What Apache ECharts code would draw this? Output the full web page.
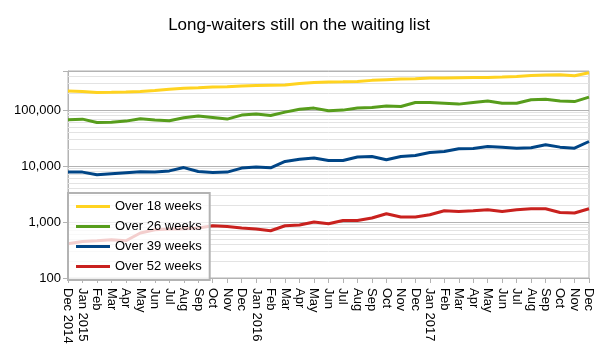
<!DOCTYPE html>
<html>
<head>
<meta charset="utf-8">
<script src="https://cdn.jsdelivr.net/npm/echarts@6/dist/echarts.min.js"></script>
<style>
  html, body { margin: 0; padding: 0; background: #fff; }
  #chart { width: 598px; height: 351px; }
</style>
</head>
<body>
<div id="chart"></div>
<script>
// Maanden Dec 2014 t/m Dec 2017
const months = [
  'Dec 2014', 'Jan 2015', 'Feb', 'Mar', 'Apr', 'May', 'Jun', 'Jul', 'Aug', 'Sep', 'Oct', 'Nov',
  'Dec', 'Jan 2016', 'Feb', 'Mar', 'Apr', 'May', 'Jun', 'Jul', 'Aug', 'Sep', 'Oct', 'Nov',
  'Dec', 'Jan 2017', 'Feb', 'Mar', 'Apr', 'May', 'Jun', 'Jul', 'Aug', 'Sep', 'Oct', 'Nov', 'Dec'
];

const over18 = [
  220000, 215000, 207000, 208000, 210000, 215000, 225000, 237000, 247000, 252000, 258000, 262000,
  270000, 276000, 279000, 280000, 300000, 312000, 318000, 320000, 325000, 340000, 350000, 358000,
  365000, 373000, 376000, 380000, 384000, 384000, 390000, 400000, 415000, 425000, 430000, 410000,
  465000
];

const over26 = [
  67000, 69000, 60000, 61000, 63600, 70000, 66300, 64400, 72900, 78200, 73800, 69100,
  81400, 84900, 80100, 92100, 104000, 108600, 97200, 100000, 108600, 111000, 119000, 116000,
  137000, 137000, 133000, 128000, 137000, 146000, 133000, 133000, 153000, 157000, 146000, 142000,
  171000
];

const over39 = [
  7800, 7800, 7000, 7300, 7600, 7900, 7800, 8200, 9400, 8000, 7700, 7800,
  9200, 9600, 9300, 12100, 13300, 13900, 12600, 12600, 14500, 14800, 13000, 14800,
  15500, 17500, 18200, 20400, 20600, 22400, 21800, 20900, 21200, 24000, 21800, 20900,
  27500
];

const over52 = [
  410, 450, 464, 483, 464, 636, 729, 750, 759, 781, 859, 835,
  781, 750, 699, 859, 884, 1000, 933, 1068, 1068, 1179, 1405, 1228,
  1228, 1350, 1592, 1546, 1592, 1660, 1546, 1660, 1728, 1728, 1484, 1448,
  1728
];

const yTicks = [100, 1000, 10000, 100000];

// Lichte hulplijnen tussen de machten van tien
const minorLines = [];
[100, 1000, 10000, 100000].forEach(base => {
  for (let k = 2; k <= 9; k++) {
    if (base * k < 500000) minorLines.push({ yAxis: base * k });
  }
});

const chart = echarts.init(document.getElementById('chart'));
const font = 'Liberation Sans, Arial, sans-serif';

function lineSeries(name, data, color) {
  return {
    name: name,
    type: 'line',
    data: data,
    symbol: 'none',
    smooth: false,
    lineStyle: { color: color, width: 3 },
    itemStyle: { color: color },
    z: 3
  };
}

const option = {
  animation: false,
  title: {
    text: 'Long-waiters still on the waiting list',
    left: 'center',
    top: 12,
    textStyle: { fontFamily: font, fontSize: 17, fontWeight: 'normal', color: '#000' }
  },
  grid: {
    left: 68, right: 9, top: 71, bottom: 73,
    show: true, borderColor: '#b3b3b3', borderWidth: 1
  },
  legend: {
    orient: 'vertical',
    left: 68, top: 193,
    padding: [6, 8, 6, 8],
    icon: 'rect',
    itemWidth: 34, itemHeight: 3, itemGap: 5,
    backgroundColor: 'rgba(255,255,255,0.78)',
    borderColor: '#b3b3b3', borderWidth: 2,
    z: 10,
    textStyle: { fontFamily: font, fontSize: 13, color: '#000', lineHeight: 15 },
    data: ['Over 18 weeks', 'Over 26 weeks', 'Over 39 weeks', 'Over 52 weeks']
  },
  xAxis: {
    type: 'category',
    data: months,
    boundaryGap: false,
    axisLine: { lineStyle: { color: '#b3b3b3' } },
    axisTick: { show: true, length: 5, alignWithLabel: true, interval: 0, lineStyle: { color: '#b3b3b3' } },
    axisLabel: {
      interval: 0, rotate: -90, margin: 10,
      fontFamily: font, fontSize: 13, color: '#000'
    },
    splitLine: { show: false }
  },
  yAxis: {
    type: 'log',
    logBase: 10,
    min: 100,
    max: 500000,
    axisLine: { show: true, lineStyle: { color: '#b3b3b3' } },
    axisTick: { show: true, length: 5, lineStyle: { color: '#b3b3b3' } },
    axisLabel: {
      margin: 7,
      fontFamily: font, fontSize: 13, color: '#000',
      formatter: v => yTicks.indexOf(Math.round(v)) >= 0 ? Math.round(v).toLocaleString('en-US') : ''
    },
    splitLine: { show: true, lineStyle: { color: '#b3b3b3', width: 1 } }
  },
  series: [
    {
      name: 'grid',
      type: 'line',
      data: [],
      silent: true,
      z: 1,
      markLine: {
        silent: true,
        z: 1,
        symbol: 'none',
        label: { show: false },
        emphasis: { disabled: true },
        lineStyle: { color: '#e3e3e3', width: 1, type: 'solid' },
        data: minorLines
      }
    },
    lineSeries('Over 18 weeks', over18, '#ffd320'),
    lineSeries('Over 26 weeks', over26, '#579d1c'),
    lineSeries('Over 39 weeks', over39, '#004586'),
    lineSeries('Over 52 weeks', over52, '#c9211e')
  ]
};

chart.setOption(option);
</script>
</body>
</html>
